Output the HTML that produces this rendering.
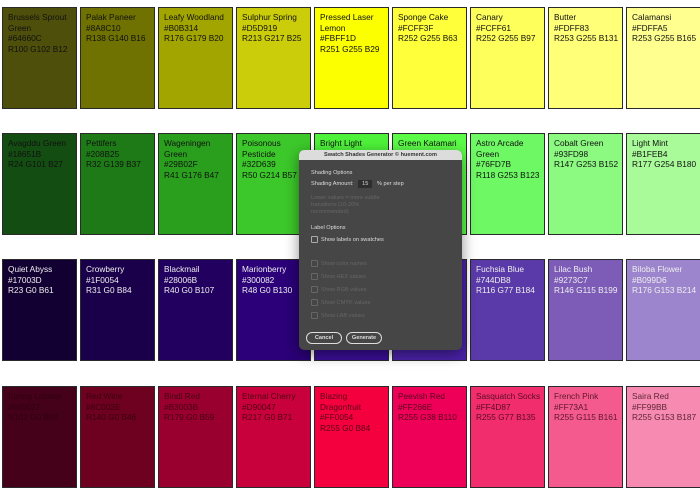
<!DOCTYPE html>
<html><head><meta charset="utf-8"><style>
body{margin:0;width:700px;height:500px;background:#fff;position:relative;overflow:hidden;font-family:"Liberation Sans",sans-serif}
.s{position:absolute;width:73px;height:100px;border:1px solid #2a2a2a;box-sizing:content-box;font-size:8.3px;line-height:10.6px;padding:0;color:#111}
.s div{padding:4px 0 0 5px}
.w{color:#eee}
.r{color:rgba(40,0,10,0.75)}
.dlg{position:absolute;left:299px;top:150px;width:163px;height:200px;background:#464646;border-radius:5px;box-shadow:0 4px 14px rgba(0,0,0,.45);overflow:hidden;color:#ddd;font-size:5.6px}
.tb{height:10px;background:#dcdcdc;color:#333;font-weight:bold;text-align:center;line-height:10px;font-size:5.6px}
.t{position:absolute}
.cb{display:inline-block;width:5px;height:5px;border:1px solid #aaa;border-radius:1px;vertical-align:middle;margin-right:3px}
.dim{color:#666}.dim .cb{border-color:#666}
.btn{position:absolute;top:182px;height:10px;border:1px solid #ddd;border-radius:6px;text-align:center;line-height:10px;font-weight:bold}
</style></head><body>
<div id="g"></div>
<script>
var rows=[
[["Brussels Sprout<br>Green<br>#64660C<br>R100 G102 B12","#4e4f0a"],["Palak Paneer<br>#8A8C10<br>R138 G140 B16","#6f7100"],["Leafy Woodland<br>#B0B314<br>R176 G179 B20","#a2a400"],["Sulphur Spring<br>#D5D919<br>R213 G217 B25","#cccd0a"],["Pressed Laser<br>Lemon<br>#FBFF1D<br>R251 G255 B29","#fbff00"],["Sponge Cake<br>#FCFF3F<br>R252 G255 B63","#ffff3a"],["Canary<br>#FCFF61<br>R252 G255 B97","#ffff5c"],["Butter<br>#FDFF83<br>R253 G255 B131","#ffff78"],["Calamansi<br>#FDFFA5<br>R253 G255 B165","#ffff90"]],
[["Avagddu Green<br>#18651B<br>R24 G101 B27","#134d12"],["Pettifers<br>#208B25<br>R32 G139 B37","#1e7a16"],["Wageningen<br>Green<br>#29B02F<br>R41 G176 B47","#2a9f1e"],["Poisonous<br>Pesticide<br>#32D639<br>R50 G214 B57","#3cc82a"],["Bright Light<br>Green","#4ef23a"],["Green Katamari","#5cfb48"],["Astro Arcade<br>Green<br>#76FD7B<br>R118 G253 B123","#6ef864"],["Cobalt Green<br>#93FD98<br>R147 G253 B152","#8cfa80"],["Light Mint<br>#B1FEB4<br>R177 G254 B180","#a8fb98"]],
[["Quiet Abyss<br>#17003D<br>R23 G0 B61","#120033"],["Crowberry<br>#1F0054<br>R31 G0 B84","#1a004a"],["Blackmail<br>#28006B<br>R40 G0 B107","#22005f"],["Marionberry<br>#300082<br>R48 G0 B130","#2b0078"],["","#3a0e96"],["","#4a22a8"],["Fuchsia Blue<br>#744DB8<br>R116 G77 B184","#5a3aa8"],["Lilac Bush<br>#9273C7<br>R146 G115 B199","#7d5cb8"],["Biloba Flower<br>#B099D6<br>R176 G153 B214","#9c85cc"]],
[["Spring Lobster<br>#660027<br>R102 G0 B39","#45001a"],["Red Wine<br>#8C002E<br>R140 G0 B46","#6e0020"],["Bindi Red<br>#B3003B<br>R179 G0 B59","#990030"],["Eternal Cherry<br>#D90047<br>R217 G0 B71","#c8003c"],["Blazing<br>Dragonfruit<br>#FF0054<br>R255 G0 B84","#f5003f"],["Peevish Red<br>#FF266E<br>R255 G38 B110","#ee0058"],["Sasquatch Socks<br>#FF4D87<br>R255 G77 B135","#f22d6e"],["French Pink<br>#FF73A1<br>R255 G115 B161","#f55a8e"],["Saira Red<br>#FF99BB<br>R255 G153 B187","#f78ab0"]]];
var tops=[7,133,259,386],h="";
rows.forEach(function(r,i){r.forEach(function(c,j){h+='<div class="s '+(i==2?'w':i==3?'r':'')+'" style="left:'+(2+j*78)+'px;top:'+tops[i]+'px;background:'+c[1]+'"><div>'+c[0]+'</div></div>';});});
document.getElementById('g').innerHTML=h;
</script>
<div class="dlg">
<div class="tb">Swatch Shades Generator © huement.com</div>
<div class="t" style="left:12px;top:20px">Shading Options</div>
<div class="t" style="left:12px;top:31px">Shading Amount: <span style="background:#2e2e2e;padding:1px 4px;margin:0 3px">15</span> % per step</div>
<div class="t dim" style="left:12px;top:45px;line-height:7px">Lower values = more subtle<br>transitions (10-20%<br>recommended)</div>
<div class="t" style="left:12px;top:75px">Label Options</div>
<div class="t" style="left:12px;top:86px"><span class="cb"></span>Show labels on swatches</div>
<div class="t dim" style="left:12px;top:110px"><span class="cb"></span>Show color names</div>
<div class="t dim" style="left:12px;top:123px"><span class="cb"></span>Show HEX values</div>
<div class="t dim" style="left:12px;top:136px"><span class="cb"></span>Show RGB values</div>
<div class="t dim" style="left:12px;top:149px"><span class="cb"></span>Show CMYK values</div>
<div class="t dim" style="left:12px;top:162px"><span class="cb"></span>Show LAB values</div>
<div class="btn" style="left:7px;width:34px">Cancel</div>
<div class="btn" style="left:47px;width:34px">Generate</div>
</div>
</body></html>
